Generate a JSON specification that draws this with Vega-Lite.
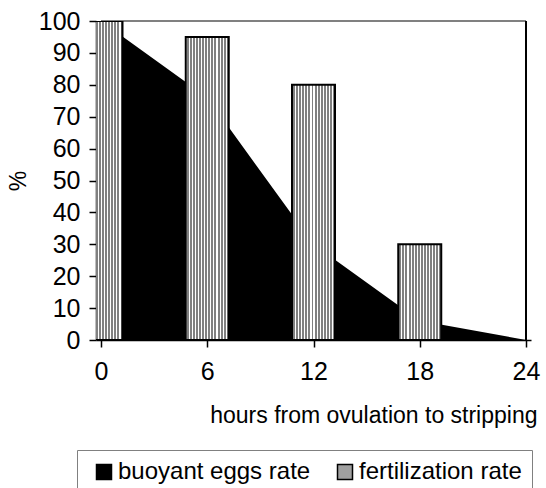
{
  "$schema": "https://vega.github.io/schema/vega-lite/v6.json",
  "width": 435,
  "height": 319,
  "autosize": {"type": "none"},
  "padding": {"left": 96, "top": 21, "right": 15, "bottom": 148},
  "background": "white",
  "config": {
    "view": {"stroke": null},
    "font": "Liberation Sans",
    "axis": {"domainColor": "black", "domainWidth": 1.5, "tickColor": "black", "tickWidth": 1.5, "tickSize": 7, "labelColor": "black", "labelFontSize": 25, "titleColor": "black", "titleFontSize": 23, "titleFontWeight": "normal", "grid": false},
    "legend": {"labelFontSize": 24, "labelColor": "black"}
  },
  "data": {"values": [
    {"hours": 0, "series": "buoyant eggs rate", "value": 100},
    {"hours": 6, "series": "buoyant eggs rate", "value": 76},
    {"hours": 12, "series": "buoyant eggs rate", "value": 30},
    {"hours": 18, "series": "buoyant eggs rate", "value": 6},
    {"hours": 24, "series": "buoyant eggs rate", "value": 0},
    {"hours": 0, "series": "fertilization rate", "value": 100},
    {"hours": 6, "series": "fertilization rate", "value": 95},
    {"hours": 12, "series": "fertilization rate", "value": 80},
    {"hours": 18, "series": "fertilization rate", "value": 30}
  ]},
  "encoding": {
    "x": {"field": "hours", "type": "quantitative", "scale": {"domain": [0, 24], "nice": false},
      "axis": {"values": [0, 6, 12, 18, 24], "labelPadding": 12, "title": "hours from ovulation to stripping", "titleAnchor": "end", "titleAlign": "right", "titleX": 441, "titleY": 82, "titleBaseline": "alphabetic"}},
    "y": {"field": "value", "type": "quantitative", "scale": {"domain": [0, 100], "nice": false},
      "axis": {"values": [0, 10, 20, 30, 40, 50, 60, 70, 80, 90, 100], "labelPadding": 9, "title": "%", "titlePadding": 8}}
  },
  "layer": [
    {
      "transform": [{"filter": "datum.series === 'buoyant eggs rate'"}],
      "mark": {"type": "area", "clip": true, "interpolate": "linear"},
      "encoding": {
        "fill": {
          "field": "series",
          "type": "nominal",
          "scale": {"domain": ["buoyant eggs rate", "fertilization rate"], "range": ["black", "#a0a0a0"]},
          "legend": {"title": null, "orient": "none", "legendX": -19, "legendY": 429, "direction": "horizontal", "columns": 2, "columnPadding": 17, "padding": 10, "symbolOffset": 5, "strokeColor": "#808080", "fillColor": "white", "symbolType": "square", "symbolSize": 225, "symbolStrokeColor": "black", "symbolStrokeWidth": 1.5, "labelOffset": 2, "labelFontSize": 24, "labelLimit": 400}
        }
      }
    },
    {
      "mark": {"type": "rule", "color": "#808080", "strokeWidth": 2},
      "encoding": {"y": {"datum": 100}, "x": {"datum": 0}, "x2": {"datum": 24}}
    },
    {
      "mark": {"type": "rule", "color": "black", "strokeWidth": 1.5},
      "encoding": {"x": {"datum": 24}, "y": {"datum": 0}, "y2": {"datum": 100}}
    },
    {
      "transform": [{"filter": "datum.series === 'fertilization rate'"}],
      "mark": {"type": "bar", "clip": true, "width": 43, "stroke": "black", "strokeWidth": 2},
      "encoding": {
        "fill": {"value": {"gradient": "linear", "x1": 0, "y1": 0, "x2": 1, "y2": 0, "stops": [
              {"offset": 0, "color": "#ffffff"}, {"offset": 0.025, "color": "#ffffff"}, {"offset": 0.025, "color": "#808080"}, {"offset": 0.0714, "color": "#808080"},
              {"offset": 0.0714, "color": "#ffffff"}, {"offset": 0.0964, "color": "#ffffff"}, {"offset": 0.0964, "color": "#808080"}, {"offset": 0.1429, "color": "#808080"},
              {"offset": 0.1429, "color": "#ffffff"}, {"offset": 0.1679, "color": "#ffffff"}, {"offset": 0.1679, "color": "#808080"}, {"offset": 0.2143, "color": "#808080"},
              {"offset": 0.2143, "color": "#ffffff"}, {"offset": 0.2393, "color": "#ffffff"}, {"offset": 0.2393, "color": "#808080"}, {"offset": 0.2857, "color": "#808080"},
              {"offset": 0.2857, "color": "#ffffff"}, {"offset": 0.3107, "color": "#ffffff"}, {"offset": 0.3107, "color": "#808080"}, {"offset": 0.3571, "color": "#808080"},
              {"offset": 0.3571, "color": "#ffffff"}, {"offset": 0.3821, "color": "#ffffff"}, {"offset": 0.3821, "color": "#808080"}, {"offset": 0.4286, "color": "#808080"},
              {"offset": 0.4286, "color": "#ffffff"}, {"offset": 0.4536, "color": "#ffffff"}, {"offset": 0.4536, "color": "#808080"}, {"offset": 0.5, "color": "#808080"},
              {"offset": 0.5, "color": "#ffffff"}, {"offset": 0.525, "color": "#ffffff"}, {"offset": 0.525, "color": "#808080"}, {"offset": 0.5714, "color": "#808080"},
              {"offset": 0.5714, "color": "#ffffff"}, {"offset": 0.5964, "color": "#ffffff"}, {"offset": 0.5964, "color": "#808080"}, {"offset": 0.6429, "color": "#808080"},
              {"offset": 0.6429, "color": "#ffffff"}, {"offset": 0.6679, "color": "#ffffff"}, {"offset": 0.6679, "color": "#808080"}, {"offset": 0.7143, "color": "#808080"},
              {"offset": 0.7143, "color": "#ffffff"}, {"offset": 0.7393, "color": "#ffffff"}, {"offset": 0.7393, "color": "#808080"}, {"offset": 0.7857, "color": "#808080"},
              {"offset": 0.7857, "color": "#ffffff"}, {"offset": 0.8107, "color": "#ffffff"}, {"offset": 0.8107, "color": "#808080"}, {"offset": 0.8571, "color": "#808080"},
              {"offset": 0.8571, "color": "#ffffff"}, {"offset": 0.8821, "color": "#ffffff"}, {"offset": 0.8821, "color": "#808080"}, {"offset": 0.9286, "color": "#808080"},
              {"offset": 0.9286, "color": "#ffffff"}, {"offset": 0.9536, "color": "#ffffff"}, {"offset": 0.9536, "color": "#808080"}, {"offset": 1, "color": "#808080"}
            ]}}
      }
    }
  ]
}
